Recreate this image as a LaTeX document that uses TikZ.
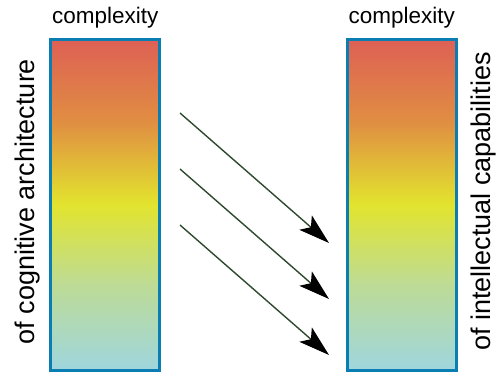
\documentclass[tikz,border=0pt]{standalone}
\usepackage{fontspec}
\setmainfont{Liberation Sans}
\usetikzlibrary{positioning,arrows.meta}

\definecolor{barblue}{HTML}{0A7DB3}
\definecolor{barred}{HTML}{DE6055}
\definecolor{barorange}{HTML}{E08E42}
\definecolor{baryellow}{HTML}{E2E42E}
\definecolor{bargreen}{HTML}{BCDB98}
\definecolor{barcyan}{HTML}{9FD6DE}
\definecolor{flowgreen}{HTML}{2E4A2E}

\pgfdeclareverticalshading{complexityramp}{100bp}{color(0bp)=(barcyan); color(25bp)=(barcyan); color(37.5bp)=(bargreen); color(50bp)=(baryellow); color(62.5bp)=(barorange); color(75bp)=(barred); color(100bp)=(barred)}

\begin{document}
\begin{tikzpicture}[
  x=1pt,y=-1pt,
  bar/.style={draw=barblue,line width=3pt,shade,shading=complexityramp,minimum width=109pt,minimum height=331pt,inner sep=0pt},
  toplabel/.style={font=\fontsize{22.5}{26}\selectfont,inner sep=0pt},
  sidelabel/.style={font=\fontsize{27}{31}\selectfont,inner sep=0pt,rotate=90},
  flow/.style={draw=flowgreen,line width=1.4pt,-{Stealth[length=31pt,width=19pt,inset=7pt,color=black]}}
]
\useasboundingbox (0,0) rectangle (496,373);
\node[bar] (cogbar) at (105.2,204.5) {};
\node[bar] (capbar) at (401.8,204.5) {};
\node[toplabel,above=9pt of cogbar] (cogtitle) {complexity};
\node[toplabel,above=9pt of capbar] (captitle) {complexity};
\node[sidelabel,anchor=south] (cogside) at ([xshift=-9pt,yshift=3pt]cogbar.west) {of cognitive architecture};
\node[sidelabel,anchor=north] (capside) at ([xshift=13pt,yshift=3pt]capbar.east) {of intellectual capabilities};
% three arrows from left bar to right bar
\foreach \i/\dy in {1/0,2/56,3/112} {
  \coordinate (from\i) at (180,113+\dy);
  \coordinate (to\i) at (329,243+\dy);
  \draw[flow] (from\i) -- (to\i);
}
\end{tikzpicture}
\end{document}
